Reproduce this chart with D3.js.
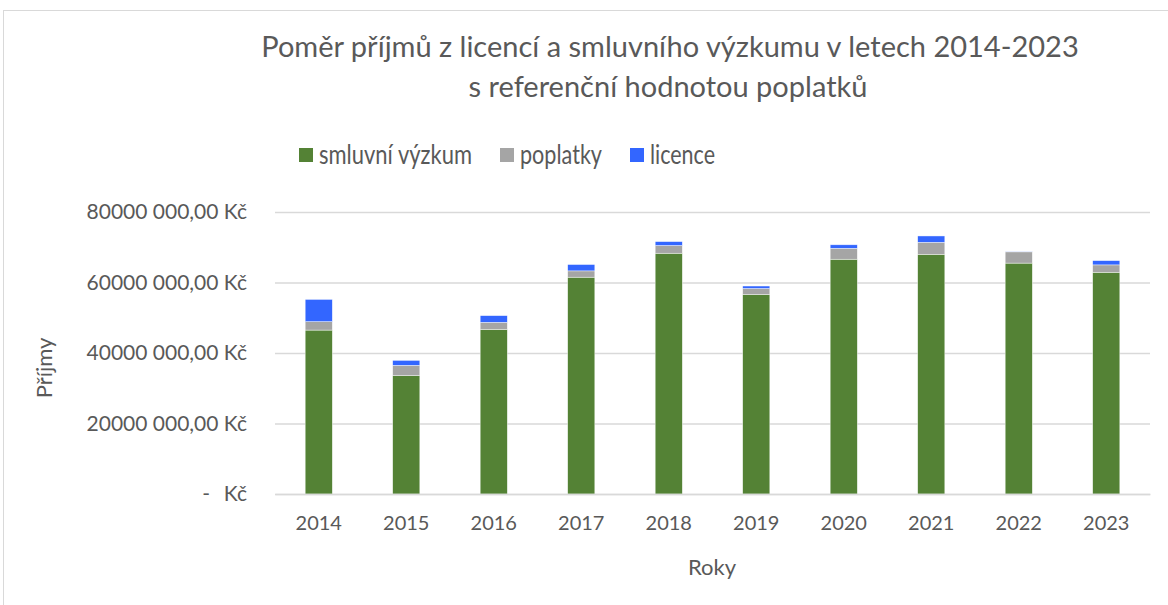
<!DOCTYPE html>
<html>
<head>
<meta charset="utf-8">
<script src="https://cdn.jsdelivr.net/npm/d3@7"></script>
<style>
  body { margin: 0; background: #fff; }
  text { font-family: Lato, "Open Sans", sans-serif; fill: #595959; }
</style>
</head>
<body>
<div id="chart"></div>
<script>
var width = 1168;
var height = 605;

// data (Kč)
var years = ["2014", "2015", "2016", "2017", "2018", "2019", "2020", "2021", "2022", "2023"];
var smluvni = [46500000, 33600000, 46700000, 61500000, 68300000, 56600000, 66600000, 68000000, 65500000, 62900000];
var poplatky = [2400000, 2900000, 2000000, 1800000, 2200000, 1700000, 3100000, 3400000, 3200000, 2100000];
var licence = [6300000, 1400000, 1900000, 1800000, 1100000, 700000, 1000000, 1800000, 100000, 1200000];
var tickValues = [0, 20000000, 40000000, 60000000, 80000000];
var tickLabels = ["Kč", "20000 000,00 Kč", "40000 000,00 Kč", "60000 000,00 Kč", "80000 000,00 Kč"];
var seriesNames = ["smluvní výzkum", "poplatky", "licence"];
var colors = ["#548235", "#a5a5a5", "#3366ff"];

var rows = years.map(function(y, i) {
  return { year: y, smluvni: smluvni[i], poplatky: poplatky[i], licence: licence[i] };
});
var stack = d3.stack().keys(["smluvni", "poplatky", "licence"]);
var series = stack(rows);

var svg = d3.select("#chart").append("svg")
  .attr("width", width)
  .attr("height", height);

// chart frame
svg.append("rect")
  .attr("x", 3.5).attr("y", 10.5)
  .attr("width", width + 10).attr("height", height + 10)
  .attr("fill", "none")
  .attr("stroke", "#d9d9d9");

var xScale = d3.scaleBand().domain(years).range([275, 1150]).paddingInner(0.69).paddingOuter(0.345);
var yScale = d3.scaleLinear().domain([0, 80000000]).range([494, 212]);

// gridlines + y labels
var yAxis = d3.axisLeft(yScale)
  .tickValues(tickValues)
  .tickSize(-875)
  .tickPadding(28)
  .tickFormat(function(d, i) { return tickLabels[i]; });

var gy = svg.append("g")
  .attr("transform", "translate(275,0)")
  .call(yAxis);
gy.select(".domain").remove();
gy.selectAll("line").attr("stroke", "#d9d9d9").attr("stroke-width", 1.3);
gy.selectAll("text").style("font-size", "21px").attr("fill", "#595959");
// accounting style dash for zero
svg.append("text")
  .attr("x", 210).attr("y", yScale(0))
  .attr("dy", "0.32em")
  .attr("text-anchor", "end")
  .style("font-size", "21px")
  .text("-");

// bars
svg.append("g").selectAll("g")
  .data(series)
  .enter().append("g")
  .attr("fill", function(d, i) { return colors[i]; })
  .selectAll("rect")
  .data(function(d) { return d; })
  .enter().append("rect")
  .attr("x", function(d) { return xScale(d.data.year); })
  .attr("y", function(d) { return yScale(d[1]); })
  .attr("height", function(d) { return yScale(d[0]) - yScale(d[1]); })
  .attr("width", xScale.bandwidth())
  .attr("stroke", "#fff")
  .attr("stroke-width", 0.6)
  .attr("stroke-opacity", 0.7);

// x axis
var xAxis = d3.axisBottom(xScale).tickSize(0).tickPadding(22);
var gx = svg.append("g")
  .attr("transform", "translate(0,494)")
  .call(xAxis);
gx.select(".domain").attr("stroke", "#d9d9d9").attr("stroke-width", 1.5);
gx.selectAll("text").style("font-size", "20px").attr("fill", "#595959");

// axis titles
svg.append("text")
  .attr("transform", "translate(52,368) rotate(-90)")
  .attr("text-anchor", "middle")
  .style("font-size", "22px")
  .text("Příjmy");

svg.append("text")
  .attr("x", 712).attr("y", 575)
  .attr("text-anchor", "middle")
  .style("font-size", "22px")
  .text("Roky");

// title
svg.append("text")
  .attr("x", 670).attr("y", 57)
  .attr("text-anchor", "middle")
  .style("font-size", "29px")
  .text("Poměr příjmů z licencí a smluvního výzkumu v letech 2014-2023");
svg.append("text")
  .attr("x", 668).attr("y", 97)
  .attr("text-anchor", "middle")
  .style("font-size", "29px")
  .text("s referenční hodnotou poplatků");

// legend
var legendX = [299, 500, 630];
var legendW = [153, 82, 65];
var legend = svg.append("g").selectAll("g")
  .data(seriesNames)
  .enter().append("g")
  .attr("transform", function(d, i) { return "translate(" + legendX[i] + ",148)"; });
legend.append("rect")
  .attr("width", 14).attr("height", 14)
  .attr("fill", function(d, i) { return colors[i]; });
legend.append("text")
  .attr("x", 20).attr("y", 7)
  .attr("dy", "0.35em")
  .style("font-size", "27px")
  .attr("textLength", function(d, i) { return legendW[i]; })
  .attr("lengthAdjust", "spacingAndGlyphs")
  .text(function(d) { return d; });
</script>
</body>
</html>
